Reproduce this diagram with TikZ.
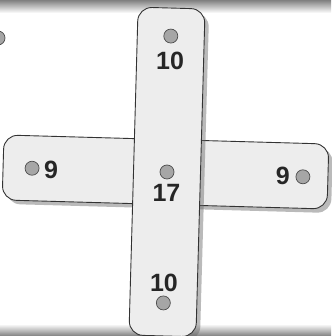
\documentclass[tikz,border=0pt]{standalone}
\usepackage{fontspec}
\setmainfont{Liberation Sans}
\usetikzlibrary{shadows}
\begin{document}
\begin{tikzpicture}[x=1pt, y=1pt]
        \tikzset{strip/.style={rectangle, draw=black!80, line width=0.9pt, fill=black!7, rounded corners=14pt, rotate=-1.6, drop shadow={shadow xshift=4pt, shadow yshift=-4pt, fill=black!60, opacity=.45}},
            peg/.style={circle, draw=black!70, fill=black!35, line width=0.7pt, minimum size=14pt, inner sep=0pt},
            num/.style={font=\fontsize{25}{26}\selectfont\bfseries, inner sep=0pt, text=black!85}}
        \useasboundingbox (0,0) rectangle (331,336);
        % paper edges
        \shade[top color=black!50, bottom color=white] (0,323) rectangle (331,336);
        \shade[top color=white, bottom color=black!50] (0,0) rectangle (331,12);
        \node[peg] (stray) at (-2,298) {};
        % the two bars
        \node[strip, minimum width=325pt, minimum height=65pt] (hbar) at (165.5,164) {};
        \node[strip, minimum width=67pt, minimum height=328pt] (vbar) at (167,164) {};
        \begin{scope}[shift={(167,164)}, rotate=-1.6]
            \node[peg] (ptop) at (0,136) {};
            \node[num] (ntop) at (0,111) {10};
            \node[peg] (pmid) at (0,0) {};
            \node[num] (nmid) at (0,-21) {17};
            \node[num] (nbot) at (0,-111) {10};
            \node[peg] (pbot) at (0,-131) {};
            \node[peg] (pleft) at (-135,0) {};
            \node[num] (nleft) at (-116,-1) {9};
            \node[peg] (pright) at (136,-1) {};
            \node[num] (nright) at (116,-1) {9};
        \end{scope}
\end{tikzpicture}
\end{document}
